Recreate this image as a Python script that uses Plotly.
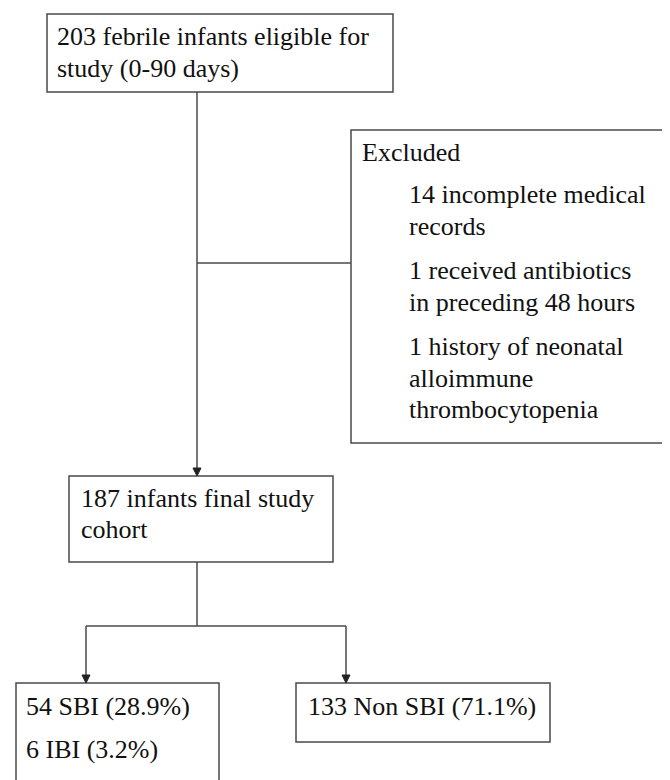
import plotly.graph_objects as go

W, H = 670, 780
OFF = 8  # page body margin compensation

# Flowchart boxes (pixel layout, y downwards)
box_x0 = [47, 351, 69, 16, 296]
box_y0 = [14, 130, 476, 683, 683]
box_x1 = [393, 668, 333, 219, 550]
box_y1 = [92, 443, 562, 800, 742]

# Text lines: left x, baseline y, text
text_x = [57, 57,
          362, 409, 409, 409, 409, 409, 409, 409,
          81, 81,
          26, 26,
          308]
text_base = [45, 77,
             161, 203, 235, 279, 311, 355, 387, 418,
             507, 538,
             715, 758,
             715]
text_lines = ["203 febrile infants eligible for", "study (0-90 days)",
              "Excluded", "14 incomplete medical", "records",
              "1 received antibiotics", "in preceding 48 hours",
              "1 history of neonatal", "alloimmune", "thrombocytopenia",
              "187 infants final study", "cohort",
              "54 SBI (28.9%)", "6 IBI (3.2%)",
              "133 Non SBI (71.1%)"]

# Connectors: (x0, y0, x1, y1, arrow at end)
conn_x0 = [197, 197, 197, 86, 86, 346]
conn_y0 = [92, 263, 562, 626, 626, 626]
conn_x1 = [197, 351, 197, 346, 86, 346]
conn_y1 = [476, 263, 626, 626, 683, 683]
conn_arrow = [True, False, False, False, True, True]

LINE = "#4a4a4a"
FONT = "Liberation Serif, Times New Roman, serif"
FS = 26

fig = go.Figure()

for x0, y0, x1, y1 in zip(box_x0, box_y0, box_x1, box_y1):
    fig.add_shape(type="rect", xref="x", yref="y", x0=x0, y0=y0, x1=x1, y1=y1,
                  line=dict(color=LINE, width=1.5), fillcolor="rgba(0,0,0,0)")

AH, AW = 8, 4
for x0, y0, x1, y1, a in zip(conn_x0, conn_y0, conn_x1, conn_y1, conn_arrow):
    end = y1 - AH if a else y1
    fig.add_shape(type="line", xref="x", yref="y", x0=x0, y0=y0, x1=x1, y1=end,
                  line=dict(color=LINE, width=1.5))
    if a:
        path = f"M {x1-AW},{y1-AH} L {x1+AW},{y1-AH} L {x1},{y1} Z"
        fig.add_shape(type="path", xref="x", yref="y", path=path,
                      fillcolor="#222222", line=dict(color="#222222", width=1))

for x, b, t in zip(text_x, text_base, text_lines):
    fig.add_annotation(x=x - 2, y=b - 9, xref="x", yref="y", text=t,
                       showarrow=False, xanchor="left", yanchor="middle",
                       font=dict(family=FONT, size=FS, color="#111111"))

fig.update_layout(
    width=W, height=H,
    margin=dict(l=0, r=0, t=0, b=0),
    paper_bgcolor="white", plot_bgcolor="white",
    font=dict(family=FONT),
    xaxis=dict(range=[OFF, W + OFF], visible=False, fixedrange=True),
    yaxis=dict(range=[H + OFF, OFF], visible=False, fixedrange=True),
    showlegend=False,
)
fig.write_html("out.html")
